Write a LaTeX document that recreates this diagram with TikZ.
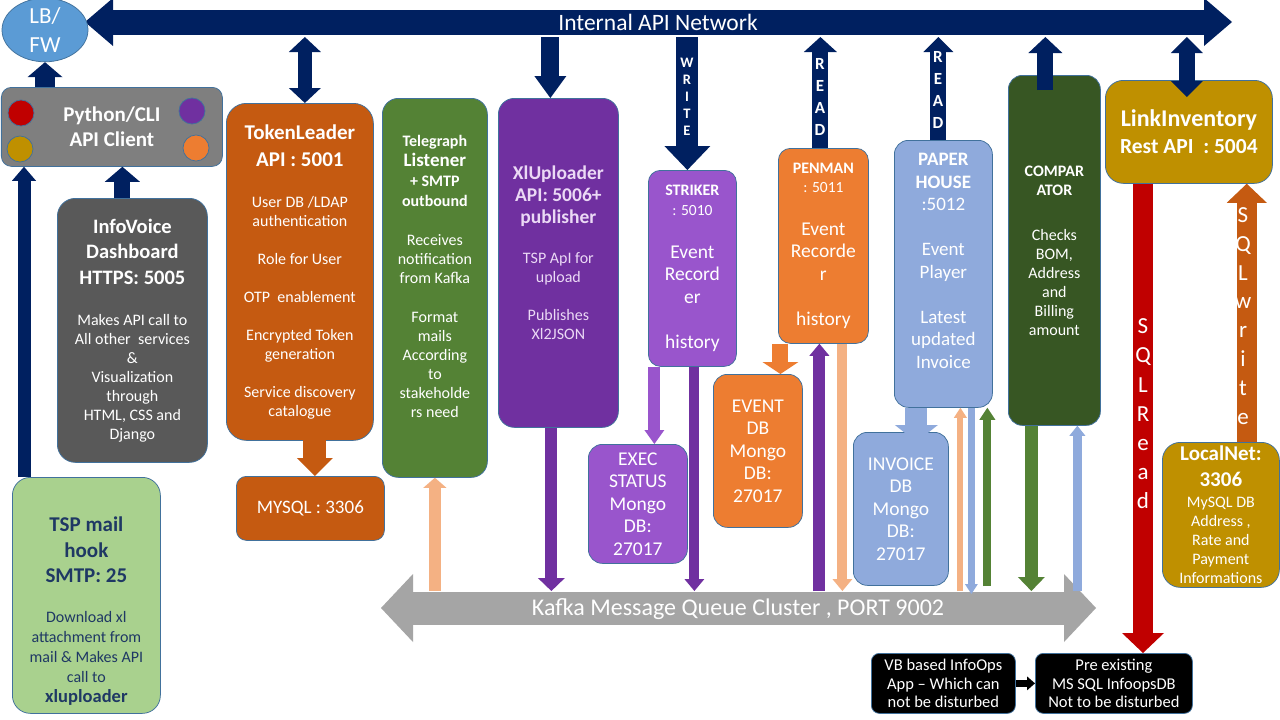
\documentclass[tikz,border=0pt]{standalone}
\usepackage{fontspec}
\setmainfont{Carlito}
\usetikzlibrary{arrows.meta,calc,shapes.geometric}

\definecolor{navy}{HTML}{002060}
\definecolor{lbblue}{HTML}{5B9BD5}
\definecolor{midgray}{HTML}{7F7F7F}
\definecolor{dkgray}{HTML}{595959}
\definecolor{tokc}{HTML}{C55A11}
\definecolor{telec}{HTML}{548235}
\definecolor{xlpurp}{HTML}{7030A0}
\definecolor{xltext}{HTML}{EBD9F5}
\definecolor{strkc}{HTML}{9955CC}
\definecolor{penc}{HTML}{ED7D31}
\definecolor{phc}{HTML}{8FAADC}
\definecolor{cmpc}{HTML}{375623}
\definecolor{goldc}{HTML}{BF9000}
\definecolor{tspc}{HTML}{A9D18E}
\definecolor{tspnavy}{HTML}{1F3864}
\definecolor{peach}{HTML}{F4B183}
\definecolor{kgray}{HTML}{A5A5A5}
\definecolor{sqlred}{HTML}{C00000}
\definecolor{edge}{HTML}{41719C}

\newcommand{\boxhead}[2]{{\bfseries\fontsize{#1}{#1}\selectfont #2}}
\newcommand{\boxsize}[2]{{\fontsize{#1}{#1}\selectfont #2}}

\tikzset{every picture/.style={line width=0.75pt}}
\tikzset{
  box/.style={draw=edge, fill=#1, rounded corners=14pt, text=white, align=center,
    inner sep=2pt, anchor=north west, font=\fontsize{16}{19}\selectfont},
  ledot/.style={circle, draw=edge, fill=#1, minimum size=26pt, inner sep=0pt},
  blk/.style n args={4}{draw=#1, line width=#2,
    arrows={-Triangle[width=#3,length=#4,line width=0pt]}},
  dblk/.style n args={4}{draw=#1, line width=#2,
    arrows={Triangle[width=#3,length=#4,line width=0pt]-Triangle[width=#3,length=#4,line width=0pt]}},
  vlbl/.style={text=white, align=center, inner sep=0pt},
}

\begin{document}
\begin{tikzpicture}[x=1pt,y=1pt,yscale=-1]
\useasboundingbox (0,0) rectangle (1280,720);
\fill[white] (0,0) rectangle (1280,720);

%Shape: Internal API Network bus
\coordinate (netL) at (85,22);
\coordinate (netR) at (1232,22);
\coordinate (netbot) at (0,37);
\draw[dblk={navy}{25pt}{48pt}{28pt}] (netL) -- (netR);
\node[vlbl, font=\fontsize{23.5}{26}\selectfont] (net) at (658,22) {Internal API Network};

%Shape: Kafka bus
\coordinate (kafL) at (381,608);
\coordinate (kafR) at (1096,608);
\coordinate (kaftop) at (0,591);
\draw[dblk={kgray}{33pt}{68pt}{32pt}] (kafL) -- (kafR);
\node[vlbl, font=\fontsize{24}{27}\selectfont] (kafka) at (738,609) {Kafka Message Queue Cluster , PORT 9002};

%Shape: LB/FW
\node[ellipse, draw=edge, fill=lbblue, minimum width=86pt, minimum height=60pt, inner sep=0pt,
  text=white, align=center, font=\fontsize{23}{29}\selectfont] (lbfw) at (45,30) {LB/\\FW};

%Shape: client boxes
\node[box=midgray, rounded corners=10pt, minimum width=221pt, minimum height=79pt,
  font=\bfseries\fontsize{21}{25}\selectfont] (pyc) at (1,87) {Python/CLI\\API Client};
\node[ledot=sqlred] (dotred) at (21,113) {};
\node[ledot=goldc] (dotgold) at (20,149) {};
\node[ledot=xlpurp] (dotpurp) at (192,111) {};
\node[ledot=penc] (dotorng) at (196,148) {};

\node[box=dkgray, rounded corners=18pt, minimum width=150pt, minimum height=264pt] (info) at (57,198)
  {\boxhead{20.5}{InfoVoice}\\[6.5pt]\boxhead{20.5}{Dashboard}\\[6.5pt]\boxhead{20.5}{HTTPS: 5005}\\[22pt]
   Makes API call to\\All other~ services\\\&\\Visualization\\through\\HTML, CSS and\\Django};

\node[box=tspc, text=tspnavy, rounded corners=18pt, minimum width=148pt, minimum height=236pt,
  font=\fontsize{16}{20}\selectfont] (tsp) at (12,477)
  {\mbox{}\\[27pt]\boxhead{21}{TSP mail}\\[5.5pt]\boxhead{21}{hook}\\[5.5pt]\boxhead{21}{SMTP: 25}\\[20pt]
   Download xl\\attachment from\\mail \& Makes API\\call to\\\boxhead{18.5}{xluploader}};

%Shape: services
\node[box=tokc, rounded corners=20pt, minimum width=147pt, minimum height=337pt] (tok) at (226,103)
  {\boxhead{21}{TokenLeader}\\[8pt]\boxhead{21}{API : 5001}\\[22pt]
   User DB /LDAP\\authentication\\[19pt]Role for User\\[19pt]OTP~ enablement\\[19pt]
   Encrypted Token\\generation\\[19pt]Service discovery\\catalogue};

\node[box=tokc, rounded corners=10pt, minimum width=148pt, minimum height=64pt,
  font=\fontsize{19}{22}\selectfont] (mysql) at (236,476) {MYSQL : 3306};

\node[box=telec, rounded corners=16pt, minimum width=105pt, minimum height=379pt] (tele) at (382,98)
  {\boxhead{16}{Telegraph}\\[1pt]\boxhead{19}{Listener}\\[1pt]\boxhead{16}{+ SMTP}\\[1pt]\boxhead{16}{outbound}\\[20pt]
   Receives\\notification\\from Kafka\\[20pt]Format\\mails\\According\\to\\stakeholde\\rs need\\[3pt]\mbox{}};

\node[box=xlpurp, text=xltext, rounded corners=16pt, minimum width=120pt, minimum height=329pt] (xlu) at (498,98)
  {\boxhead{19.5}{XlUploader}\\[3pt]\boxhead{19.5}{API: 5006+}\\[3pt]\boxhead{19.5}{publisher}\\[21pt]
   TSP ApI for\\upload\\[19pt]Publishes\\Xl2JSON\\[1pt]\mbox{}};

\node[box=strkc, rounded corners=12pt, minimum width=88pt, minimum height=196pt,
  font=\fontsize{19.5}{22.5}\selectfont] (strk) at (648,170)
  {\boxhead{16}{STRIKER}\\[-2.5pt]\boxsize{15.5}{: 5010}\\[20pt]Event\\Record\\er\\[22.5pt]history};

\node[box=strkc, minimum width=99pt, minimum height=119pt,
  font=\fontsize{19.5}{22.5}\selectfont] (exec) at (588,444) {EXEC\\STATUS\\Mongo\\DB:\\27017};

\node[box=penc, rounded corners=12pt, minimum width=90pt, minimum height=195pt,
  font=\fontsize{19.5}{22.5}\selectfont] (pen) at (778,148)
  {\boxhead{16}{PENMAN}\\[-3.5pt]\boxsize{15.5}{: 5011}\\[20pt]Event\\Recorde\\r\\[22.5pt]history};

\node[box=penc, minimum width=89pt, minimum height=153pt,
  font=\fontsize{19.5}{22.5}\selectfont] (evdb) at (713,374) {EVENT\\DB\\Mongo\\DB:\\27017};

\node[box=phc, minimum width=98pt, minimum height=267pt,
  font=\fontsize{19}{22.5}\selectfont] (ph) at (894,140)
  {\textbf{PAPER}\\\textbf{HOUSE}\\:5012\\[22.5pt]Event\\Player\\[22.5pt]Latest\\updated\\Invoice\\[3.5pt]\mbox{}};

\node[box=phc, minimum width=95pt, minimum height=153pt,
  font=\fontsize{19.5}{22.5}\selectfont] (inv) at (853,432) {INVOICE\\DB\\Mongo\\DB:\\27017};

\node[box=cmpc, minimum width=92pt, minimum height=350pt] (cmp) at (1008,75)
  {\boxhead{16}{COMPAR}\\\boxhead{16}{ATOR}\\[26pt]Checks\\BOM,\\Address\\and\\Billing\\amount};

\node[box=goldc, rounded corners=18pt, minimum width=167pt, minimum height=103pt] (lnk) at (1105,80)
  {\boxhead{24}{LinkInventory}\\[8pt]\boxhead{21.5}{Rest API~ : 5004}};

\node[box=goldc, rounded corners=18pt, minimum width=117pt, minimum height=145pt] (lcl) at (1162,442)
  {\boxhead{21}{LocalNet:}\\[7pt]\boxhead{21}{3306}\\[2pt]MySQL DB\\Address ,\\Rate and\\Payment\\Informations};

\node[box=black, rounded corners=8pt, minimum width=144pt, minimum height=60pt,
  font=\fontsize{16.5}{18.5}\selectfont] (vb) at (871,653) {VB based InfoOps\\App – Which can\\not be disturbed};

\node[box=black, rounded corners=8pt, minimum width=157pt, minimum height=60pt,
  font=\fontsize{16.5}{18.5}\selectfont] (mssql) at (1035,653) {Pre existing\\MS SQL InfoopsDB\\Not to be disturbed};

%Straight Lines: client arrows
\draw[blk={navy}{20pt}{35pt}{15pt}] (lbfw.south |- pyc.north) -- (lbfw.south);
\coordinate (tspup) at ($(tsp.north west)+(12,0)$);
\draw[blk={navy}{13pt}{24pt}{14pt}] (tspup) -- (tspup |- pyc.south);
\coordinate (infup) at ($(info.north)+(-10,0)$);
\draw[blk={navy}{16pt}{35pt}{15pt}] (infup) -- (infup |- pyc.south);

%Straight Lines: TokenLeader
\coordinate (tokup) at ($(tok.north)+(5,0)$);
\draw[dblk={navy}{14pt}{32pt}{15pt}] (tokup) -- (tokup |- netbot);
\coordinate (tokdn) at ($(tok.south)+(15,-10)$);
\draw[blk={tokc}{23pt}{36pt}{18pt}] (tokdn) -- (tokdn |- mysql.north);

%Straight Lines: Telegraph and XlUploader
\draw[blk={peach}{12pt}{23pt}{10pt}] (tele.south |- kaftop) -- (tele.south);
\coordinate (xluup) at ($(xlu.north)+(-8,0)$);
\draw[blk={navy}{18pt}{32pt}{22pt}] (xluup |- netbot) -- (xluup);
\coordinate (xludn) at ($(xlu.south)+(-7,0)$);
\draw[blk={xlpurp}{12pt}{27pt}{13pt}] (xludn) -- (xludn |- kaftop);

%Straight Lines: STRIKER
\coordinate (strup) at ($(strk.north)+(-5,0)$);
\draw[blk={navy}{22pt}{46pt}{24pt}] (strup |- netbot) -- (strup);
\coordinate (strex) at ($(strk.south)+(-38,0)$);
\draw[blk={strkc}{12pt}{20pt}{14pt}] (strex) -- (strex |- exec.north);
\coordinate (strkf) at ($(strk.south)+(2,0)$);
\draw[blk={xlpurp}{10pt}{20pt}{12pt}] (strkf) -- (strkf |- kaftop);

%Straight Lines: PENMAN
\coordinate (penup) at ($(pen.north)+(-3,0)$);
\draw[blk={navy}{16pt}{33pt}{15pt}] (penup) -- (penup |- netbot);
\coordinate (penev) at ($(pen.south)+(-43,0)$);
\draw[blk={penc}{16pt}{36pt}{12pt}] (penev) -- (penev |- evdb.north);
\coordinate (penkfa) at ($(pen.south)+(-4,0)$);
\draw[blk={xlpurp}{12pt}{20pt}{12pt}] (penkfa |- kaftop) -- (penkfa);
\coordinate (penkfb) at ($(pen.south)+(19,0)$);
\draw[blk={peach}{10pt}{20pt}{12pt}] (penkfb) -- (penkfb |- kaftop);

%Straight Lines: PAPER HOUSE
\coordinate (phup) at ($(ph.north)+(-5,0)$);
\draw[blk={navy}{16pt}{30pt}{15pt}] (phup) -- (phup |- netbot);
\coordinate (phinv) at ($(ph.south)+(-27,0)$);
\coordinate (invtop) at (phinv |- inv.north);
\draw[blk={phc}{22pt}{43pt}{17pt}] (phinv) -- ($(invtop)+(0,10)$);
\coordinate (pha) at ($(ph.south)+(17,0)$);
\draw[blk={peach}{6pt}{13pt}{10pt}] (pha |- kaftop) -- (pha);
\coordinate (phb) at ($(ph.south)+(28,0)$);
\coordinate (phbk) at (phb |- kaftop);
\draw[blk={phc}{7pt}{13pt}{10pt}] (phb) -- ($(phbk)+(0,3)$);
\coordinate (phc) at ($(ph.south)+(44,0)$);
\coordinate (phck) at (phc |- kaftop);
\draw[blk={telec}{8pt}{16pt}{12pt}] ($(phck)+(0,-5)$) -- (phc);

%Straight Lines: COMPARATOR
\coordinate (cmpup) at ($(cmp.north)+(-9,15)$);
\draw[blk={navy}{16pt}{34pt}{16pt}] (cmpup) -- (cmpup |- netbot);
\coordinate (cmpdn) at ($(cmp.south)+(-23,0)$);
\draw[blk={telec}{13pt}{27pt}{14pt}] (cmpdn) -- (cmpdn |- kaftop);
\coordinate (cmpin) at ($(cmp.south)+(23,0)$);
\draw[blk={phc}{9pt}{16pt}{10pt}] (cmpin |- kaftop) -- (cmpin);

%Straight Lines: LinkInventory
\coordinate (lnkup) at ($(lnk.north)+(-2,17)$);
\draw[dblk={navy}{16pt}{32pt}{16pt}] (lnkup |- netbot) -- (lnkup);
\coordinate (sqlrd) at ($(lnk.south west)+(38,0)$);
\draw[blk={sqlred}{20pt}{42pt}{20pt}] (sqlrd) -- (sqlrd |- mssql.north);
\coordinate (sqlwr) at ($(lcl.north east)+(-33,0)$);
\draw[blk={tokc}{20pt}{40pt}{19pt}] (sqlwr) -- (sqlwr |- lnk.south);
\draw[blk={black}{7pt}{14pt}{8pt}] (vb.east) -- (mssql.west);

% Text Node: arrow labels
\node[vlbl, font=\bfseries\fontsize{14.5}{17}\selectfont] (wrlbl) at (687,97) {W\\R\\I\\T\\E};
\node[vlbl, font=\bfseries\fontsize{17}{22.3}\selectfont] (rdlbla) at (820,97) {R\\E\\A\\D};
\node[vlbl, font=\bfseries\fontsize{17}{22}\selectfont] (rdlblb) at (938,90) {R\\E\\A\\D};
\node[vlbl, font=\fontsize{23}{29.2}\selectfont] (sqlrdlbl) at (1143,414) {S\\Q\\L\\R\\e\\a\\d};
\node[vlbl, font=\fontsize{23}{28.9}\selectfont] (sqlwrlbl) at (1243,316) {S\\Q\\L\\w\\r\\i\\t\\e};

\end{tikzpicture}
\end{document}
